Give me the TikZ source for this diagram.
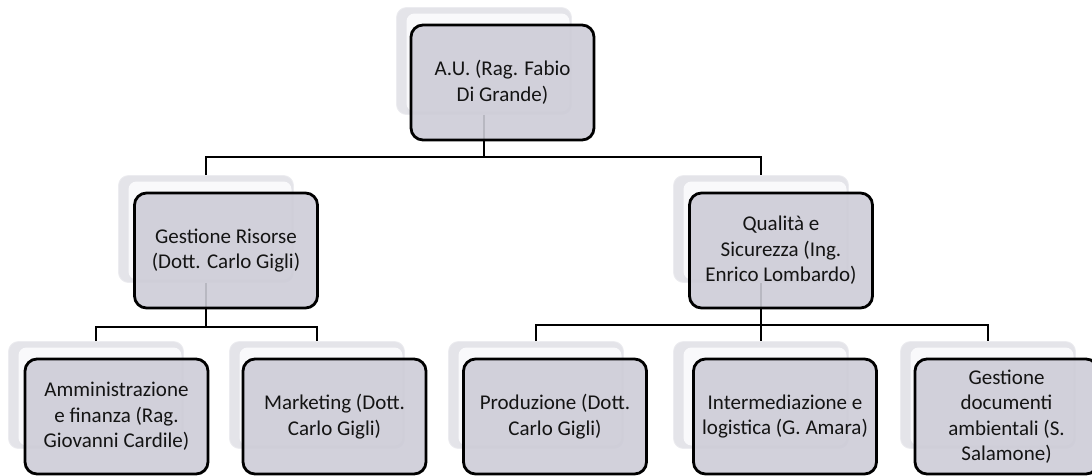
\documentclass[tikz,border=0pt]{standalone}
\usepackage{fontspec}
\setmainfont{Carlito}
\definecolor{boxfill}{RGB}{205,204,215}
\definecolor{shadedge}{RGB}{228,228,233}
\definecolor{shadline}{RGB}{236,236,240}
\definecolor{shadin}{RGB}{249,249,251}
\definecolor{txt}{RGB}{20,20,20}
\begin{document}
\begin{tikzpicture}[x=1pt,y=-1pt,
  mainbox/.style={draw=black, line width=2.8pt, fill=boxfill, fill opacity=0.9, text opacity=1,
    rounded corners=12pt, minimum width=183pt, minimum height=115pt, inner sep=0pt,
    align=center, text=txt, font=\fontsize{21}{25.5}\selectfont},
  backbox/.style={fill=shadedge, draw=shadline, line width=0.8pt, rounded corners=10pt,
    minimum width=175pt, minimum height=107pt, inner sep=0pt,
    path picture={\fill[shadin, rounded corners=8pt]
      ([xshift=10pt,yshift=-6pt]path picture bounding box.north west) rectangle
      ([xshift=-2pt,yshift=3pt]path picture bounding box.south east);}},
  conn/.style={draw=black, line width=2.8pt}
]
\clip (0,0) rectangle (1092,475);
\useasboundingbox (0,0) rectangle (1092,475);
% back boxes
\node[backbox] (AUs) at (484,61) {};
\node[backbox] (GRs) at (206,229) {};
\node[backbox] (QSs) at (761,229) {};
\node[backbox] (AFs) at (96,395) {};
\node[backbox] (MKs) at (317,395) {};
\node[backbox] (PRs) at (536,395) {};
\node[backbox] (ILs) at (761,395) {};
\node[backbox] (GDs) at (988,395) {};
% connectors
\coordinate (j1) at (484,157);
\coordinate (j2) at (206,327);
\coordinate (j3) at (761,325);
\draw[conn] (AUs.south) -- (j1);
\draw[conn] (GRs.north) |- (j1) -| (QSs.north);
\draw[conn] (GRs.south) -- (j2);
\draw[conn] (AFs.north) |- (j2) -| (MKs.north);
\draw[conn] (QSs.south) -- (ILs.north);
\draw[conn] (PRs.north) |- (j3) -| (GDs.north);
% main boxes
\node[mainbox] (AU) at (502.5,82.5) {A.U. (Rag. Fabio\\Di Grande)};
\node[mainbox] (GR) at (226,250.5) {Gestione Risorse\\(Dott. Carlo Gigli)};
\node[mainbox] (QS) at (781,250.5) {Qualità e\\Sicurezza (Ing.\\Enrico Lombardo)};
\node[mainbox] (AF) at (116.5,416.5) {Amministrazione\\e finanza (Rag.\\Giovanni Cardile)};
\node[mainbox] (MK) at (334.5,416.5) {Marketing (Dott.\\Carlo Gigli)};
\node[mainbox] (PR) at (555,416.5) {Produzione (Dott.\\Carlo Gigli)};
\node[mainbox] (IL) at (785,416.5) {Intermediazione e\\logistica (G. Amara)};
\node[mainbox] (GD) at (1006.5,416.5) {Gestione\\documenti\\ambientali (S.\\Salamone)};
\end{tikzpicture}
\end{document}
